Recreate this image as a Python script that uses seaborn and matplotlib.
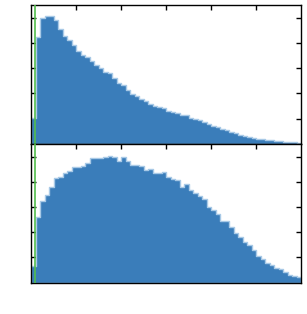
import numpy as np
import pandas as pd
import matplotlib
matplotlib.use("Agg")
import matplotlib.pyplot as plt
import seaborn as sns

# histogram binning shared by both panels (60 bins on 0..6)
bin_range = (0, 6)
bin_width = 0.1

top_heights = [
    1.04, 4.23, 5.00, 5.07, 5.07, 4.89, 4.56, 4.29, 4.12, 3.93,
    3.69, 3.53, 3.45, 3.29, 3.12, 3.00, 2.85, 2.79, 2.60, 2.40,
    2.33, 2.12, 1.99, 1.88, 1.79, 1.69, 1.60, 1.52, 1.45, 1.41,
    1.32, 1.25, 1.23, 1.15, 1.13, 1.04, 0.97, 0.93, 0.87, 0.80,
    0.73, 0.68, 0.60, 0.55, 0.48, 0.43, 0.37, 0.32, 0.28, 0.24,
    0.21, 0.19, 0.16, 0.14, 0.12, 0.11, 0.09, 0.08, 0.07, 0.05,
]

bottom_heights = [
    0.65, 2.62, 3.24, 3.48, 3.81, 4.17, 4.20, 4.34, 4.44, 4.57,
    4.60, 4.63, 4.76, 4.96, 4.96, 4.93, 4.98, 5.02, 4.97, 4.84,
    5.00, 4.84, 4.68, 4.66, 4.64, 4.47, 4.49, 4.34, 4.36, 4.39,
    4.19, 4.11, 4.06, 3.80, 3.90, 3.66, 3.55, 3.44, 3.31, 3.02,
    2.89, 2.74, 2.45, 2.46, 2.20, 1.99, 1.82, 1.61, 1.49, 1.28,
    1.07, 0.92, 0.78, 0.71, 0.57, 0.53, 0.43, 0.32, 0.26, 0.21,
]

threshold = 0.09

bar_color = "#3a7dba"
edge_color = "#a8c9e6"
line_color = "#52bc4c"

sns.set_style("ticks")

fig = plt.figure(figsize=(3.07, 3.14), dpi=100)
ax_top = fig.add_axes([0.101, 0.5414, 0.8795, 0.4427])
ax_bot = fig.add_axes([0.101, 0.0997, 0.8795, 0.4417])

n_bins = int(round((bin_range[1] - bin_range[0]) / bin_width))
centers = bin_range[0] + bin_width * (np.arange(n_bins) + 0.5)

for ax, heights in [(ax_top, top_heights), (ax_bot, bottom_heights)]:
    df = pd.DataFrame({"x": centers, "w": heights})
    sns.histplot(data=df, x="x", weights="w", binwidth=bin_width,
                 binrange=bin_range, element="step", fill=True,
                 color=bar_color, alpha=1, edgecolor=edge_color,
                 linewidth=1.0, ax=ax)
    # threshold marker drawn above the histogram outline
    ax.axvline(threshold, color=line_color, lw=1.2, zorder=5)
    ax.set_xlim(0, 6)
    ax.set_ylim(0, 5.5)
    ax.set_xticks([1, 2, 3, 4, 5])
    ax.set_yticks([1, 2, 3, 4, 5])
    ax.tick_params(direction="in", length=3.5, width=1, top=True, right=True,
                   labelbottom=False, labelleft=False, color="black")
    ax.set_xlabel("")
    ax.set_ylabel("")
    for s in ax.spines.values():
        s.set_color("black")
        s.set_linewidth(1)

fig.savefig("out.png", dpi=100)
